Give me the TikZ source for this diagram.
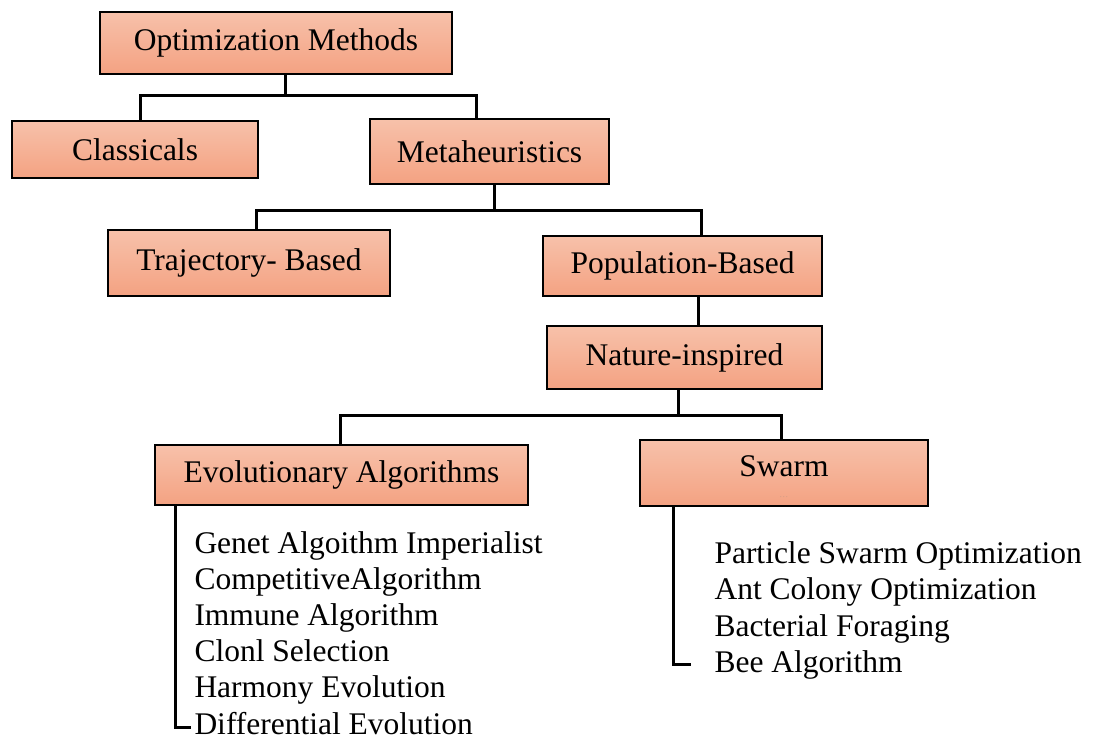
\documentclass[tikz,border=0pt]{standalone}
\usepackage{fontspec}
\setmainfont{Liberation Serif}
\definecolor{boxtop}{RGB}{247,193,170}
\definecolor{boxbot}{RGB}{244,162,130}
\begin{document}
\begin{tikzpicture}[x=1pt,y=-1pt,
line width=3pt,
font=\fontsize{31.5}{37}\selectfont]
\tikzstyle{box}=[rectangle,draw,line width=1.5pt,top color=boxtop,bottom color=boxbot,inner sep=0pt]
\tikzstyle{item}=[anchor=base west,inner sep=0pt,text depth=0pt]
\useasboundingbox (0,0) rectangle (1093,740);
% boxes
\node[box,minimum width=352,minimum height=62] (om) at (276,43) {Optimization Methods};
\node[box,minimum width=246,minimum height=57] (cl) at (135,149.5) {Classicals};
\node[box,minimum width=239,minimum height=65] (mh) at (489.5,151.5) {Metaheuristics};
\node[box,minimum width=282,minimum height=66] (tb) at (249,263) {Trajectory- Based};
\node[box,minimum width=279,minimum height=60] (pb) at (682.5,266) {Population-Based};
\node[box,minimum width=275,minimum height=63] (ni) at (684.5,357.5) {Nature-inspired};
\node[box,minimum width=373,minimum height=60] (ea) at (341.5,475) {Evolutionary Algorithms};
\node[box,minimum width=288,minimum height=66,text depth=14pt] (sw) at (784,473) {Swarm};
\node[inner sep=0pt,text=gray,font=\tiny] (swdots) at (784,497) {. . .};
% connectors
\coordinate (j1) at (285,95);
\coordinate (j2) at (494,210);
\coordinate (j3) at (678,415);
\draw ([xshift=9]om.south) -- (j1);
\draw ([xshift=5]cl.north) |- (j1) -| ([xshift=-13.5]mh.north);
\draw ([xshift=4.5]mh.south) -- (j2);
\draw ([xshift=7]tb.north) |- (j2) -| ([xshift=18.5]pb.north);
\draw ([xshift=15.5]pb.south) -- ([xshift=13.5]ni.north);
\draw ([xshift=-6.5]ni.south) -- (j3);
\draw ([xshift=-1.5]ea.north) |- (j3) -| ([xshift=-3]sw.north);
% lists
\coordinate (ea end) at (191,727);
\coordinate (sw end) at (691,664);
\draw ([xshift=-166.5]ea.south) |- (ea end);
\draw ([xshift=-111]sw.south) |- (sw end);
\foreach \txt [count=\i from 0] in {Genet Algoithm Imperialist,CompetitiveAlgorithm,Immune Algorithm,Clonl Selection,Harmony Evolution,Differential Evolution}
  \node[item] (ea\i) at (193,553+36.2*\i) {\txt};
\foreach \txt [count=\i from 0] in {Particle Swarm Optimization,Ant Colony Optimization,Bacterial Foraging,Bee Algorithm}
  \node[item] (sw\i) at (713,563+36.6*\i) {\txt};
\end{tikzpicture}
\end{document}
